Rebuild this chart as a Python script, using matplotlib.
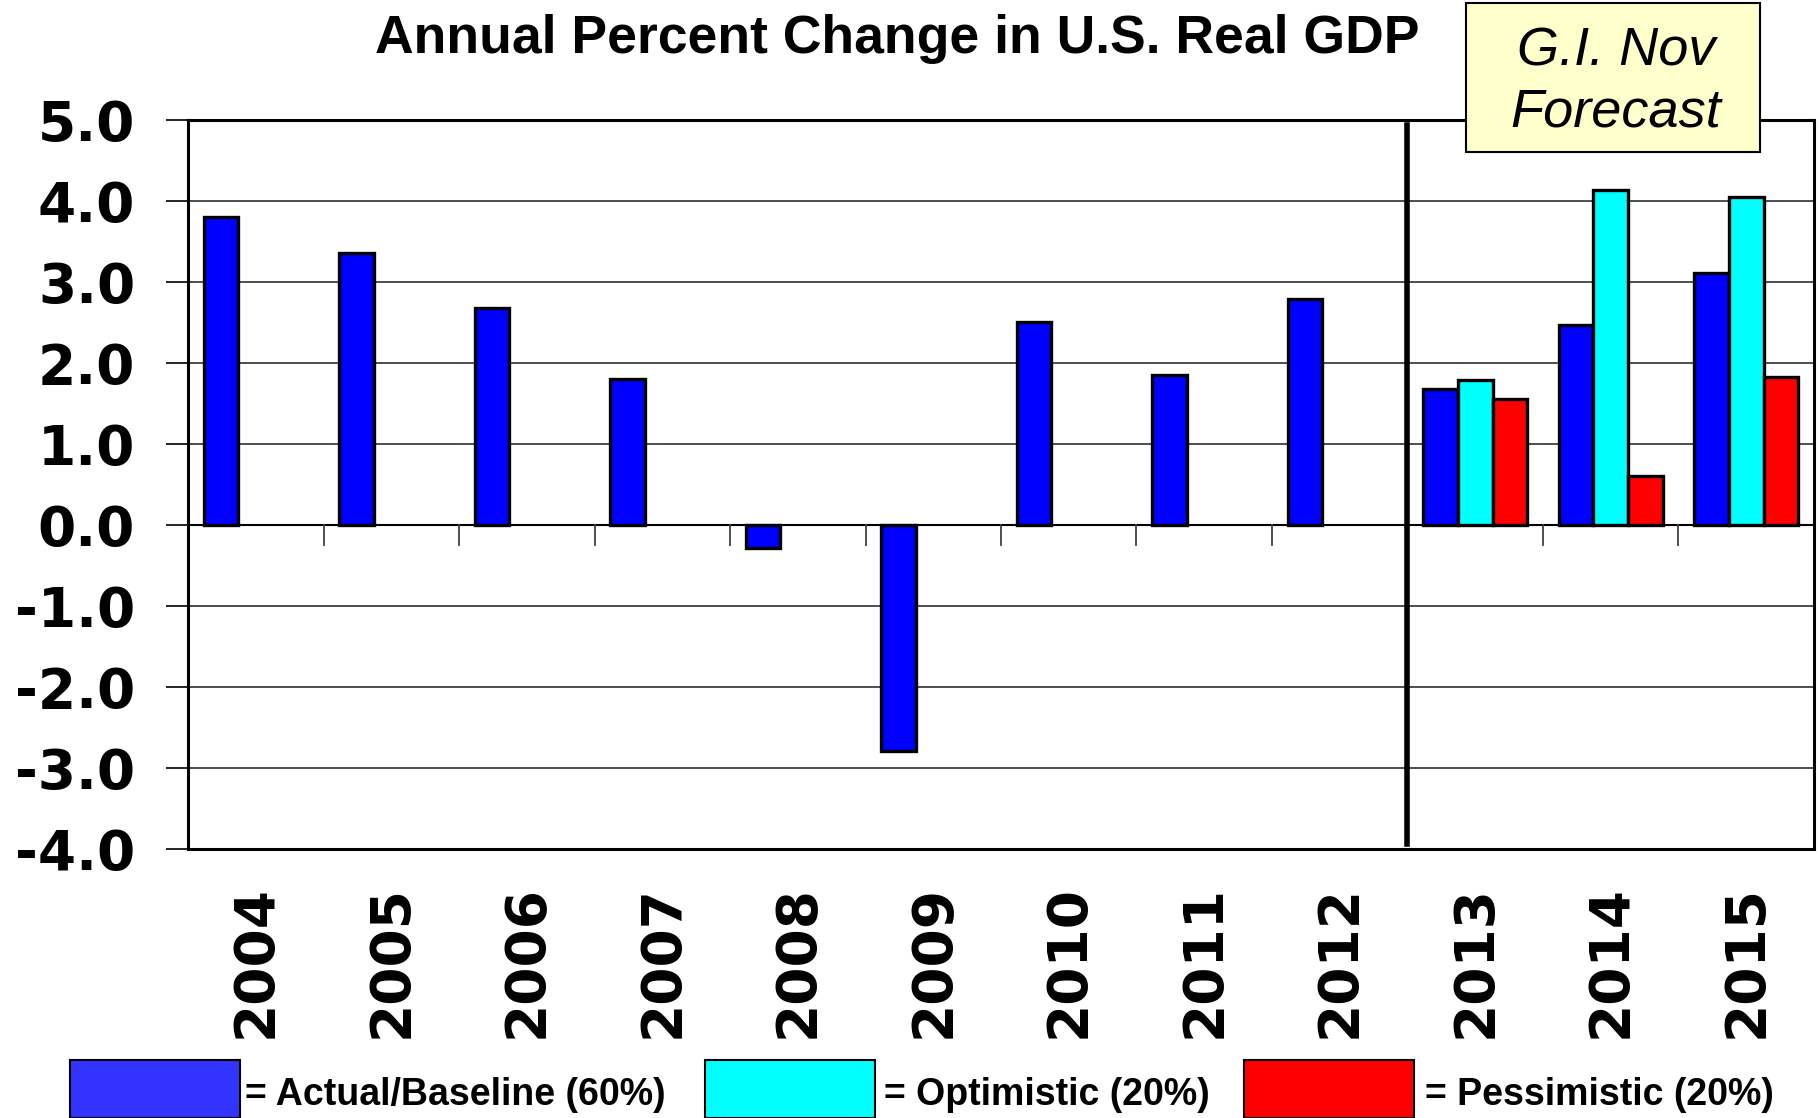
import matplotlib
matplotlib.use("Agg")
import matplotlib.pyplot as plt
from matplotlib.patches import Rectangle
import numpy as np

# * Data
years = ["2004", "2005", "2006", "2007", "2008", "2009",
         "2010", "2011", "2012", "2013", "2014", "2015"]
baseline = [3.80, 3.35, 2.67, 1.80, -0.29, -2.80,
            2.50, 1.85, 2.78, 1.67, 2.47, 3.11]
optimistic = [None] * 9 + [1.79, 4.13, 4.04]
pessimistic = [None] * 9 + [1.55, 0.60, 1.82]
legend_labels = ["= Actual/Baseline (60%)", "= Optimistic (20%)",
                 "= Pessimistic (20%)"]
title = "Annual Percent Change in U.S. Real GDP"
box_text = "G.I. Nov\nForecast"

# * Style
BLUE = "#0000FF"
CYAN = "#00FFFF"
RED = "#FF0000"
W = 0.257
BOLD = ["DejaVu Sans"]
ARIAL = ["Liberation Sans", "DejaVu Sans"]
NARROW = ["Liberation Sans Narrow", "Liberation Sans"]

fig = plt.figure(figsize=(18.2, 11.18), dpi=100)
ax = fig.add_axes([0.1033, 0.241, 0.8934, 0.652])

x = np.arange(len(years))
ax.bar(x - W, baseline, W, color=BLUE, edgecolor="black", linewidth=2.4, zorder=3)
opt_x = [i for i, v in enumerate(optimistic) if v is not None]
ax.bar(np.array(opt_x), [optimistic[i] for i in opt_x], W, color=CYAN,
       edgecolor="black", linewidth=2.4, zorder=3)
ax.bar(np.array(opt_x) + W, [pessimistic[i] for i in opt_x], W, color=RED,
       edgecolor="black", linewidth=2.4, zorder=3)

ax.set_xlim(-0.5, len(years) - 0.5)
ax.set_ylim(-4, 5)
ax.set_yticks(np.arange(-4, 6, 1))
ax.set_yticklabels([f"{v:.1f}" for v in np.arange(-4, 6, 1)])
ax.grid(axis="y", color="#404040", linewidth=1.3, zorder=1)
ax.axhline(0, color="black", linewidth=1.5, zorder=2)

# category separators hang down from the zero line
for b in np.arange(0.5, len(years) - 0.5):
    ax.plot([b, b], [0, -0.25], color="#404040", linewidth=1.3, zorder=2)

# forecast divider
ax.axvline(8.5, ymin=0.006, ymax=0.993, color="black", linewidth=4, zorder=4)

ax.set_xticks(x)
ax.set_xticklabels(years, rotation=90, fontfamily=BOLD, fontweight="bold",
                   fontsize=39.5)
ax.tick_params(axis="x", length=0, pad=26)
ax.tick_params(axis="y", direction="out", length=16, width=1.2, pad=22,
               labelsize=39.5)
for lab in ax.get_yticklabels():
    lab.set_fontfamily(BOLD)
    lab.set_fontweight("bold")
for s in ax.spines.values():
    s.set_linewidth(2.2)
    s.set_color("black")

fig.text(0.493, 1 - 39 / 1118, title, ha="center", va="center", fontsize=38.5,
         fontweight="bold", family=ARIAL)

# forecast box
fig.add_artist(Rectangle((1466 / 1820, 1 - 152 / 1118), 294 / 1820, 149 / 1118,
                         transform=fig.transFigure, facecolor="#FFFFCC",
                         edgecolor="black", linewidth=1.5, zorder=5))
fig.text(1616 / 1820, 1 - 82 / 1118, box_text, ha="center", va="center",
         fontsize=39, style="italic", family=ARIAL, linespacing=1.27, zorder=6)

# legend at bottom
rect_x = [70, 705, 1244]
text_x = [245, 884, 1425]
for rx, tx, col, lab in zip(rect_x, text_x, ["#3333FF", CYAN, RED], legend_labels):
    fig.add_artist(Rectangle((rx / 1820, 0), 170 / 1820, 58 / 1118,
                             transform=fig.transFigure, facecolor=col,
                             edgecolor="black", linewidth=1.5))
    fig.text(tx / 1820, 1 - 1095 / 1118, lab, ha="left", va="center",
             fontsize=27, fontweight="bold", family=NARROW)

fig.savefig("out.png", dpi=100)
